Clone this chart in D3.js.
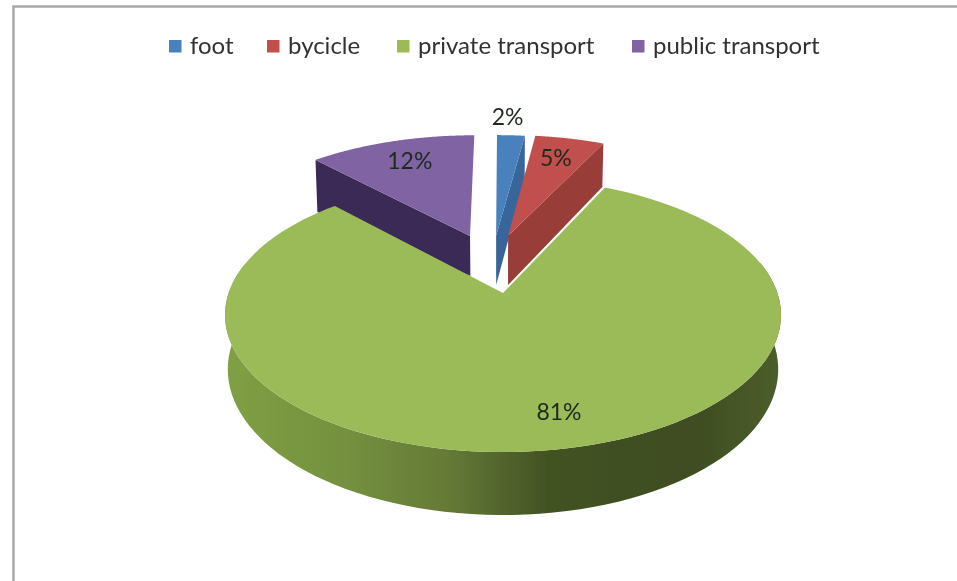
<!DOCTYPE html>
<html><head><meta charset="utf-8">
<style>html,body{margin:0;padding:0;background:#fff;overflow:hidden}svg{display:block}text{font-family:Lato,"Open Sans",sans-serif}</style>
<script src="https://cdn.jsdelivr.net/npm/d3@7/dist/d3.min.js"></script>
</head><body><svg id="c" width="957" height="581"></svg>
<script>
const categories = ["foot","bycicle","private transport","public transport"];
const shares = [2,5,81,12];
const labels = ["2%","5%","81%","12%"];
const topColors = ["#4a81bd","#c0504d","#9bbb59","#8064a2"];
const sideColors = ["#39669a","#983c39","url(#greenSide)","#3a2a55"];

// layout
const cx=503, cy=293, H=133.5, R=274.4, k=0.1606, D=52.9;
const explodeU=[-0.027,0.02,0,-0.129], explodeV=[-0.46,-0.46,0,-0.458];
const labelRadius=[1.22,0.78,0.8,0.77];
const labelTurn=[-0.023,-0.01,-0.068,0.012];
const legendX=[169,267,397,632];
const drawOrder=[3,0,1,2];

const svg=d3.select("#c");
const defs=svg.append("defs");
const grad=defs.append("linearGradient").attr("id","greenSide").attr("gradientUnits","userSpaceOnUse")
  .attr("x1",225).attr("x2",781).attr("y1",0).attr("y2",0);
[[0,"#80a044"],[0.22,"#74903f"],[0.4,"#657a36"],[0.58,"#435224"],[0.85,"#3f4d22"],[1,"#4d5e2a"]]
  .forEach(s=>grad.append("stop").attr("offset",s[0]).attr("stop-color",s[1]));
defs.append("filter").attr("id","soft").append("feGaussianBlur").attr("stdDeviation",0.6);
defs.append("filter").attr("id","softText").append("feGaussianBlur").attr("stdDeviation",0.4);

// frame: only the top and left borders are in view
svg.append("path").attr("d","M13.5,581V6.5H957").attr("fill","none").attr("stroke","#a8a8a8").attr("stroke-width",2.5);

const project=(u,v)=>{const w=1-k*v;return [cx+R*u/w,cy+H*v/w];};
const depth=(u,v,i)=>{const w=1-k*v;return i===3?37.7-17.6*u:D/w;};
const lower=(u,v,i)=>{const p=project(u,v);return [cx+(p[0]-cx)*0.99,p[1]+depth(u,v,i)];};
const line=d3.line();
const slices=d3.pie().sort(null).value(d=>d)(shares);
const steps=t=>d3.range(0,121).map(j=>t[0]+(t[1]-t[0])*j/120);

const g=svg.append("g").attr("filter","url(#soft)");
drawOrder.forEach(i=>{
  const s=slices[i], ou=explodeU[i], ov=explodeV[i];
  const pt=a=>[ou+Math.sin(a),ov-Math.cos(a)];
  const top=steps([s.startAngle,s.endAngle]).map(pt);
  const apex=[ou,ov];
  if(i===2){
    // near rim of the large slice
    const rim=top.filter(p=>p[1]>-0.25);
    const poly=rim.map(p=>project(p[0],p[1])).concat(rim.slice().reverse().map(p=>lower(p[0],p[1],i)));
    g.append("path").attr("d",line(poly)+"Z").attr("fill",sideColors[i]);
  } else {
    // radial wall facing the viewer
    const edge=i===3?s.startAngle:s.endAngle;
    const e=pt(edge);
    const wall=[project(...apex),project(...e),lower(...e,i),lower(...apex,i)];
    g.append("path").attr("d",line(wall)+"Z").attr("fill",sideColors[i]);
  }
  const face=[project(...apex)].concat(top.map(p=>project(p[0],p[1])));
  g.append("path").attr("d",line(face)+"Z").attr("fill",topColors[i]);
});

// value labels
const tg=svg.append("g").attr("filter","url(#softText)");
slices.forEach((s,i)=>{
  const m=(s.startAngle+s.endAngle)/2+labelTurn[i];
  const p=project(explodeU[i]+labelRadius[i]*Math.sin(m),explodeV[i]-labelRadius[i]*Math.cos(m));
  tg.append("text").attr("x",p[0]).attr("y",p[1]).attr("dy","0.35em").attr("text-anchor","middle")
    .attr("font-size",23).attr("fill","#1f2a1f").text(labels[i]);
});

// legend
const lg=svg.append("g").attr("filter","url(#softText)");
categories.forEach((c,i)=>{
  lg.append("rect").attr("x",legendX[i]).attr("y",40).attr("width",12.5).attr("height",12.5).attr("fill",topColors[i]);
  lg.append("text").attr("x",legendX[i]+21).attr("y",54).attr("font-size",24).attr("fill","#333").text(c);
});
</script></body></html>
